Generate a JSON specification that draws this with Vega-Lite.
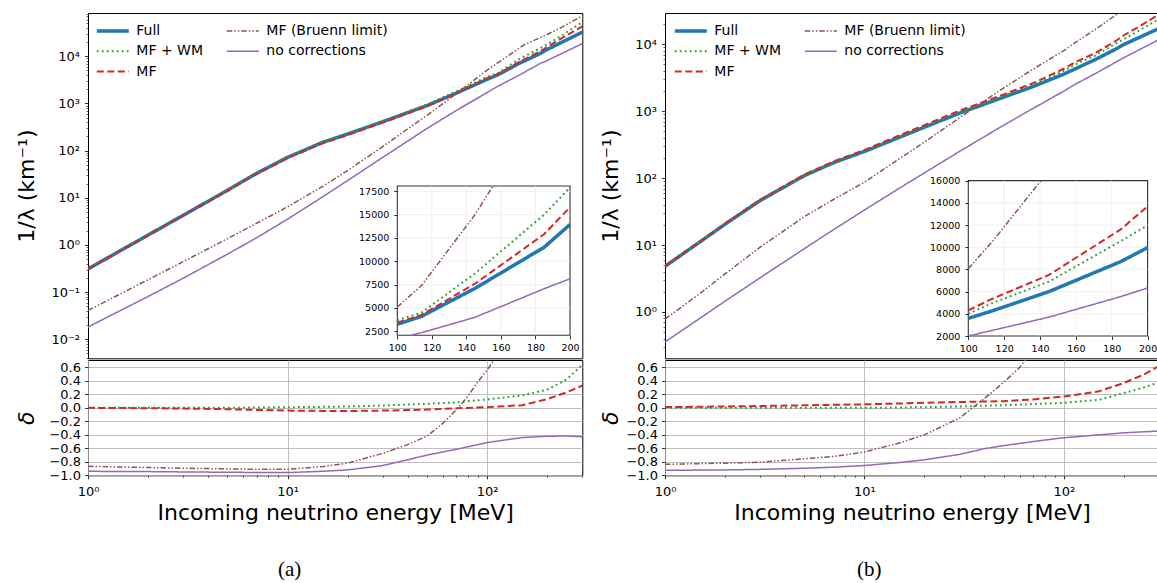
{
  "background": "white",
  "padding": {"left": 14, "top": 12, "right": 0, "bottom": 0},
  "config": {
    "view": {"stroke": "#000000", "strokeWidth": 1},
    "font": "DejaVu Sans",
    "axis": {"labelFont": "DejaVu Sans", "titleFont": "DejaVu Sans", "labelColor": "#000000", "titleColor": "#000000", "tickColor": "#000000", "tickWidth": 0.8, "tickSize": 3.5, "labelFontSize": 13, "titleFontSize": 22, "titleFontWeight": "normal", "grid": false, "domain": false, "labelFlush": false, "labelOverlap": false, "labelBound": false, "gridColor": "#b0b0b0", "gridWidth": 0.8}
  },
  "datasets": {
    "a": [
      {"E":1,"s":"Full","v":0.31},{"E":1.5,"s":"Full","v":0.815},{"E":2,"s":"Full","v":1.62},{"E":3,"s":"Full","v":4.25},{"E":5,"s":"Full","v":14.4},{"E":7,"s":"Full","v":33},{"E":10,"s":"Full","v":72},{"E":15,"s":"Full","v":150},{"E":20,"s":"Full","v":225},{"E":30,"s":"Full","v":410},{"E":50,"s":"Full","v":900},{"E":70,"s":"Full","v":1650},{"E":100,"s":"Full","v":3248},{"E":114,"s":"Full","v":4100},{"E":145,"s":"Full","v":7100},{"E":185,"s":"Full","v":11500},{"E":200,"s":"Full","v":13940},{"E":236,"s":"Full","v":19700},{"E":300,"s":"Full","v":32500},
      {"E":1,"s":"MF + WM","v":0.31},{"E":1.5,"s":"MF + WM","v":0.815},{"E":2,"s":"MF + WM","v":1.62},{"E":3,"s":"MF + WM","v":4.25},{"E":5,"s":"MF + WM","v":14.43},{"E":7,"s":"MF + WM","v":33.2},{"E":10,"s":"MF + WM","v":72.7},{"E":15,"s":"MF + WM","v":152},{"E":20,"s":"MF + WM","v":230},{"E":30,"s":"MF + WM","v":425},{"E":50,"s":"MF + WM","v":955},{"E":70,"s":"MF + WM","v":1790},{"E":100,"s":"MF + WM","v":3676},{"E":114,"s":"MF + WM","v":4500},{"E":145,"s":"MF + WM","v":8700},{"E":185,"s":"MF + WM","v":15000},{"E":200,"s":"MF + WM","v":17900},{"E":236,"s":"MF + WM","v":27400},{"E":300,"s":"MF + WM","v":53300},
      {"E":1,"s":"MF","v":0.31},{"E":1.5,"s":"MF","v":0.813},{"E":2,"s":"MF","v":1.61},{"E":3,"s":"MF","v":4.21},{"E":5,"s":"MF","v":14.1},{"E":7,"s":"MF","v":32},{"E":10,"s":"MF","v":69},{"E":15,"s":"MF","v":143},{"E":20,"s":"MF","v":214},{"E":30,"s":"MF","v":394},{"E":50,"s":"MF","v":878},{"E":70,"s":"MF","v":1640},{"E":100,"s":"MF","v":3426},{"E":114,"s":"MF","v":4250},{"E":145,"s":"MF","v":7600},{"E":185,"s":"MF","v":12900},{"E":200,"s":"MF","v":15790},{"E":236,"s":"MF","v":24000},{"E":300,"s":"MF","v":43200},
      {"E":1,"s":"MF (Bruenn limit)","v":0.041},{"E":1.5,"s":"MF (Bruenn limit)","v":0.098},{"E":2,"s":"MF (Bruenn limit)","v":0.183},{"E":3,"s":"MF (Bruenn limit)","v":0.443},{"E":5,"s":"MF (Bruenn limit)","v":1.36},{"E":7,"s":"MF (Bruenn limit)","v":2.88},{"E":10,"s":"MF (Bruenn limit)","v":6.43},{"E":15,"s":"MF (Bruenn limit)","v":17.4},{"E":20,"s":"MF (Bruenn limit)","v":37.8},{"E":30,"s":"MF (Bruenn limit)","v":122},{"E":50,"s":"MF (Bruenn limit)","v":560},{"E":70,"s":"MF (Bruenn limit)","v":1600},{"E":100,"s":"MF (Bruenn limit)","v":5100},{"E":114,"s":"MF (Bruenn limit)","v":7400},{"E":145,"s":"MF (Bruenn limit)","v":15000},{"E":155.4,"s":"MF (Bruenn limit)","v":18068},{"E":185,"s":"MF (Bruenn limit)","v":25000},{"E":200,"s":"MF (Bruenn limit)","v":29000},{"E":236,"s":"MF (Bruenn limit)","v":41000},{"E":300,"s":"MF (Bruenn limit)","v":72000},
      {"E":1,"s":"no corrections","v":0.0182},{"E":1.5,"s":"no corrections","v":0.0435},{"E":2,"s":"no corrections","v":0.0807},{"E":3,"s":"no corrections","v":0.197},{"E":5,"s":"no corrections","v":0.638},{"E":7,"s":"no corrections","v":1.42},{"E":10,"s":"no corrections","v":3.52},{"E":15,"s":"no corrections","v":10.5},{"E":20,"s":"no corrections","v":23.2},{"E":30,"s":"no corrections","v":72},{"E":50,"s":"no corrections","v":295},{"E":70,"s":"no corrections","v":708},{"E":100,"s":"no corrections","v":1700},{"E":108,"s":"no corrections","v":2071},{"E":114,"s":"no corrections","v":2350},{"E":145,"s":"no corrections","v":4000},{"E":185,"s":"no corrections","v":7060},{"E":200,"s":"no corrections","v":8129},{"E":236,"s":"no corrections","v":11400},{"E":300,"s":"no corrections","v":18600}
    ],
    "da": [
      {"E":1,"s":"MF + WM","d":0},{"E":2,"s":"MF + WM","d":0},{"E":3,"s":"MF + WM","d":0},{"E":5,"s":"MF + WM","d":0.002},{"E":7,"s":"MF + WM","d":0.005},{"E":10,"s":"MF + WM","d":0.01},{"E":15,"s":"MF + WM","d":0.015},{"E":20,"s":"MF + WM","d":0.02},{"E":30,"s":"MF + WM","d":0.035},{"E":40,"s":"MF + WM","d":0.05},{"E":50,"s":"MF + WM","d":0.06},{"E":70,"s":"MF + WM","d":0.082},{"E":100,"s":"MF + WM","d":0.125},{"E":150,"s":"MF + WM","d":0.185},{"E":200,"s":"MF + WM","d":0.27},{"E":250,"s":"MF + WM","d":0.42},{"E":300,"s":"MF + WM","d":0.64},
      {"E":1,"s":"MF","d":0},{"E":2,"s":"MF","d":-0.005},{"E":3,"s":"MF","d":-0.01},{"E":5,"s":"MF","d":-0.02},{"E":7,"s":"MF","d":-0.03},{"E":10,"s":"MF","d":-0.04},{"E":15,"s":"MF","d":-0.045},{"E":20,"s":"MF","d":-0.047},{"E":30,"s":"MF","d":-0.04},{"E":40,"s":"MF","d":-0.033},{"E":50,"s":"MF","d":-0.025},{"E":70,"s":"MF","d":-0.005},{"E":100,"s":"MF","d":0.01},{"E":150,"s":"MF","d":0.04},{"E":200,"s":"MF","d":0.13},{"E":250,"s":"MF","d":0.23},{"E":300,"s":"MF","d":0.33},
      {"E":1,"s":"MF (Bruenn limit)","d":-0.867},{"E":2,"s":"MF (Bruenn limit)","d":-0.885},{"E":3,"s":"MF (Bruenn limit)","d":-0.895},{"E":5,"s":"MF (Bruenn limit)","d":-0.905},{"E":7,"s":"MF (Bruenn limit)","d":-0.91},{"E":10,"s":"MF (Bruenn limit)","d":-0.912},{"E":15,"s":"MF (Bruenn limit)","d":-0.87},{"E":20,"s":"MF (Bruenn limit)","d":-0.82},{"E":30,"s":"MF (Bruenn limit)","d":-0.675},{"E":40,"s":"MF (Bruenn limit)","d":-0.545},{"E":50,"s":"MF (Bruenn limit)","d":-0.42},{"E":60,"s":"MF (Bruenn limit)","d":-0.23},{"E":70,"s":"MF (Bruenn limit)","d":-0.03},{"E":80,"s":"MF (Bruenn limit)","d":0.17},{"E":90,"s":"MF (Bruenn limit)","d":0.39},{"E":100,"s":"MF (Bruenn limit)","d":0.56},{"E":110,"s":"MF (Bruenn limit)","d":0.74},
      {"E":1,"s":"no corrections","d":-0.941},{"E":2,"s":"no corrections","d":-0.945},{"E":3,"s":"no corrections","d":-0.95},{"E":5,"s":"no corrections","d":-0.955},{"E":7,"s":"no corrections","d":-0.958},{"E":10,"s":"no corrections","d":-0.96},{"E":15,"s":"no corrections","d":-0.94},{"E":20,"s":"no corrections","d":-0.92},{"E":30,"s":"no corrections","d":-0.855},{"E":40,"s":"no corrections","d":-0.77},{"E":50,"s":"no corrections","d":-0.7},{"E":70,"s":"no corrections","d":-0.615},{"E":100,"s":"no corrections","d":-0.515},{"E":150,"s":"no corrections","d":-0.44},{"E":200,"s":"no corrections","d":-0.42},{"E":250,"s":"no corrections","d":-0.418},{"E":300,"s":"no corrections","d":-0.428}
    ],
    "b": [
      {"E":1,"s":"Full","v":4.8},{"E":1.5,"s":"Full","v":11.2},{"E":2,"s":"Full","v":20.5},{"E":3,"s":"Full","v":46.3},{"E":5,"s":"Full","v":109},{"E":7,"s":"Full","v":170},{"E":10,"s":"Full","v":251},{"E":15,"s":"Full","v":409},{"E":20,"s":"Full","v":577},{"E":30,"s":"Full","v":938},{"E":50,"s":"Full","v":1625},{"E":70,"s":"Full","v":2330},{"E":100,"s":"Full","v":3590},{"E":114,"s":"Full","v":4300},{"E":145,"s":"Full","v":6000},{"E":185,"s":"Full","v":8700},{"E":200,"s":"Full","v":9960},{"E":236,"s":"Full","v":12470},{"E":300,"s":"Full","v":17300},
      {"E":1,"s":"MF + WM","v":4.8},{"E":1.5,"s":"MF + WM","v":11.2},{"E":2,"s":"MF + WM","v":20.5},{"E":3,"s":"MF + WM","v":46.3},{"E":5,"s":"MF + WM","v":109},{"E":7,"s":"MF + WM","v":170},{"E":10,"s":"MF + WM","v":251},{"E":15,"s":"MF + WM","v":411},{"E":20,"s":"MF + WM","v":583},{"E":30,"s":"MF + WM","v":957},{"E":50,"s":"MF + WM","v":1690},{"E":70,"s":"MF + WM","v":2460},{"E":100,"s":"MF + WM","v":4018},{"E":114,"s":"MF + WM","v":5000},{"E":145,"s":"MF + WM","v":6900},{"E":185,"s":"MF + WM","v":10550},{"E":200,"s":"MF + WM","v":11970},{"E":236,"s":"MF + WM","v":15800},{"E":300,"s":"MF + WM","v":23900},
      {"E":1,"s":"MF","v":4.86},{"E":1.5,"s":"MF","v":11.4},{"E":2,"s":"MF","v":20.9},{"E":3,"s":"MF","v":47.6},{"E":5,"s":"MF","v":113},{"E":7,"s":"MF","v":178},{"E":10,"s":"MF","v":264},{"E":15,"s":"MF","v":436},{"E":20,"s":"MF","v":620},{"E":30,"s":"MF","v":1020},{"E":50,"s":"MF","v":1790},{"E":70,"s":"MF","v":2620},{"E":100,"s":"MF","v":4315},{"E":114,"s":"MF","v":5400},{"E":145,"s":"MF","v":7500},{"E":185,"s":"MF","v":11600},{"E":200,"s":"MF","v":13682},{"E":236,"s":"MF","v":18100},{"E":300,"s":"MF","v":28000},
      {"E":1,"s":"MF (Bruenn limit)","v":0.78},{"E":1.5,"s":"MF (Bruenn limit)","v":1.9},{"E":2,"s":"MF (Bruenn limit)","v":3.7},{"E":3,"s":"MF (Bruenn limit)","v":9.3},{"E":5,"s":"MF (Bruenn limit)","v":26.7},{"E":7,"s":"MF (Bruenn limit)","v":48},{"E":10,"s":"MF (Bruenn limit)","v":87},{"E":15,"s":"MF (Bruenn limit)","v":196},{"E":20,"s":"MF (Bruenn limit)","v":346},{"E":30,"s":"MF (Bruenn limit)","v":800},{"E":50,"s":"MF (Bruenn limit)","v":2240},{"E":70,"s":"MF (Bruenn limit)","v":4250},{"E":100,"s":"MF (Bruenn limit)","v":8066},{"E":114,"s":"MF (Bruenn limit)","v":10620},{"E":140.5,"s":"MF (Bruenn limit)","v":16000},{"E":145,"s":"MF (Bruenn limit)","v":17000},{"E":185,"s":"MF (Bruenn limit)","v":28300},{"E":200,"s":"MF (Bruenn limit)","v":33000},{"E":236,"s":"MF (Bruenn limit)","v":46000},{"E":300,"s":"MF (Bruenn limit)","v":75000},
      {"E":1,"s":"no corrections","v":0.355},{"E":1.5,"s":"no corrections","v":0.81},{"E":2,"s":"no corrections","v":1.45},{"E":3,"s":"no corrections","v":3.25},{"E":5,"s":"no corrections","v":8.85},{"E":7,"s":"no corrections","v":17.0},{"E":10,"s":"no corrections","v":33.4},{"E":15,"s":"no corrections","v":71},{"E":20,"s":"no corrections","v":120},{"E":30,"s":"no corrections","v":251},{"E":50,"s":"no corrections","v":620},{"E":70,"s":"no corrections","v":1100},{"E":100,"s":"no corrections","v":2000},{"E":114,"s":"no corrections","v":2530},{"E":145,"s":"no corrections","v":3700},{"E":185,"s":"no corrections","v":5550},{"E":200,"s":"no corrections","v":6324},{"E":236,"s":"no corrections","v":8150},{"E":300,"s":"no corrections","v":11800}
    ],
    "db": [
      {"E":1,"s":"MF + WM","d":0},{"E":2,"s":"MF + WM","d":0},{"E":3,"s":"MF + WM","d":0},{"E":5,"s":"MF + WM","d":0},{"E":7,"s":"MF + WM","d":0},{"E":10,"s":"MF + WM","d":0},{"E":15,"s":"MF + WM","d":0.005},{"E":20,"s":"MF + WM","d":0.01},{"E":30,"s":"MF + WM","d":0.02},{"E":40,"s":"MF + WM","d":0.032},{"E":50,"s":"MF + WM","d":0.04},{"E":70,"s":"MF + WM","d":0.055},{"E":100,"s":"MF + WM","d":0.076},{"E":150,"s":"MF + WM","d":0.12},{"E":200,"s":"MF + WM","d":0.22},{"E":250,"s":"MF + WM","d":0.3},{"E":300,"s":"MF + WM","d":0.38},
      {"E":1,"s":"MF","d":0.012},{"E":2,"s":"MF","d":0.02},{"E":3,"s":"MF","d":0.028},{"E":5,"s":"MF","d":0.038},{"E":7,"s":"MF","d":0.045},{"E":10,"s":"MF","d":0.052},{"E":15,"s":"MF","d":0.065},{"E":20,"s":"MF","d":0.075},{"E":30,"s":"MF","d":0.087},{"E":40,"s":"MF","d":0.094},{"E":50,"s":"MF","d":0.1},{"E":70,"s":"MF","d":0.125},{"E":100,"s":"MF","d":0.17},{"E":150,"s":"MF","d":0.245},{"E":200,"s":"MF","d":0.37},{"E":250,"s":"MF","d":0.49},{"E":300,"s":"MF","d":0.62},
      {"E":1,"s":"MF (Bruenn limit)","d":-0.837},{"E":2,"s":"MF (Bruenn limit)","d":-0.82},{"E":3,"s":"MF (Bruenn limit)","d":-0.805},{"E":5,"s":"MF (Bruenn limit)","d":-0.755},{"E":7,"s":"MF (Bruenn limit)","d":-0.72},{"E":10,"s":"MF (Bruenn limit)","d":-0.655},{"E":15,"s":"MF (Bruenn limit)","d":-0.52},{"E":20,"s":"MF (Bruenn limit)","d":-0.4},{"E":30,"s":"MF (Bruenn limit)","d":-0.15},{"E":40,"s":"MF (Bruenn limit)","d":0.14},{"E":50,"s":"MF (Bruenn limit)","d":0.38},{"E":60,"s":"MF (Bruenn limit)","d":0.6},{"E":70,"s":"MF (Bruenn limit)","d":0.85},
      {"E":1,"s":"no corrections","d":-0.926},{"E":2,"s":"no corrections","d":-0.92},{"E":3,"s":"no corrections","d":-0.912},{"E":5,"s":"no corrections","d":-0.895},{"E":7,"s":"no corrections","d":-0.88},{"E":10,"s":"no corrections","d":-0.855},{"E":15,"s":"no corrections","d":-0.81},{"E":20,"s":"no corrections","d":-0.77},{"E":30,"s":"no corrections","d":-0.69},{"E":40,"s":"no corrections","d":-0.605},{"E":50,"s":"no corrections","d":-0.56},{"E":70,"s":"no corrections","d":-0.5},{"E":100,"s":"no corrections","d":-0.443},{"E":150,"s":"no corrections","d":-0.4},{"E":200,"s":"no corrections","d":-0.37},{"E":250,"s":"no corrections","d":-0.355},{"E":300,"s":"no corrections","d":-0.344}
    ]
  },
  "resolve": {"scale": {"color": "independent", "strokeDash": "independent"}},
  "spacing": 15,
  "hconcat": [
    {
      "title": {"text": "(a)", "orient": "bottom", "anchor": "middle", "font": "Liberation Serif", "fontSize": 21, "fontWeight": "normal", "color": "#000000", "offset": 35, "dx": -9},
      "spacing": 0,
      "resolve": {"scale": {"color": "independent", "strokeDash": "independent"}},
      "vconcat": [
        {
          "width": 494.3, "height": 345.3,
          "resolve": {"scale": {"x": "independent", "y": "independent"}, "axis": {"x": "independent", "y": "independent"}},
          "layer": [
            {
              "resolve": {"axis": {"x": "independent", "y": "independent"}},
              "layer": [
                {
                  "data": {"name": "a"},
                  "mark": {"type": "line", "clip": true},
                  "encoding": {
                    "x": {"field": "E", "type": "quantitative", "scale": {"type": "log", "domain": [1, 300]}, "axis": null},
                    "y": {"field": "v", "type": "quantitative", "scale": {"type": "log", "domain": [0.00395, 82800]},
                      "axis": {"orient": "left", "values": [0.01, 0.1, 1, 10, 100, 1000, 10000], "labelExpr": "'10' + ['⁻³','⁻²','⁻¹','⁰','¹','²','³','⁴','⁵'][round(log(datum.value)/LN10)+3]", "labelPadding": 5, "title": "1/λ (km⁻¹)", "titleX": -62, "titleY": 172.6, "titleBaseline": "middle", "titleAlign": "center"}},
                    "color": {"field": "s", "type": "nominal", "scale": {"domain": ["Full", "MF + WM", "MF", "MF (Bruenn limit)", "no corrections"], "range": ["#1f77b4", "#2ca02c", "#d62728", "#8c564b", "#9467bd"]},
                      "legend": {"orient": "none", "legendX": 17.8, "legendY": 11, "columns": 2, "title": null, "symbolType": "stroke", "symbolSize": 1024, "rowPadding": 6.3, "columnPadding": 20, "labelOffset": 16.5, "padding": 0, "labelFontSize": 14, "labelFont": "DejaVu Sans", "labelColor": "#000000", "gridAlign": "each", "labelLimit": 400, "encode": {"symbols": {"update": {"strokeWidth": {"signal": "datum.value === 'Full' ? 3.5 : (datum.value === 'MF' || datum.value === 'MF + WM') ? 2 : 1.5"}}}}}},
                    "strokeDash": {"field": "s", "type": "nominal", "scale": {"domain": ["Full", "MF + WM", "MF", "MF (Bruenn limit)", "no corrections"], "range": [[1, 0], [1.8, 3.2], [7, 3.5], [5.5, 2, 1.5, 2, 1.5, 2], [1, 0]]},
                      "legend": {"orient": "none", "legendX": 17.8, "legendY": 11, "columns": 2, "title": null, "symbolType": "stroke", "symbolSize": 1024, "rowPadding": 6.3, "columnPadding": 20, "labelOffset": 16.5, "padding": 0, "labelFontSize": 14, "labelFont": "DejaVu Sans", "labelColor": "#000000", "gridAlign": "each", "labelLimit": 400, "encode": {"symbols": {"update": {"strokeWidth": {"signal": "datum.value === 'Full' ? 3.5 : (datum.value === 'MF' || datum.value === 'MF + WM') ? 2 : 1.5"}}}}}},
                    "strokeWidth": {"condition": [{"test": "datum.s === 'Full'", "value": 3.5}, {"test": "datum.s === 'MF' || datum.s === 'MF + WM'", "value": 2}], "value": 1.5}
                  }
                },
                {
                  "data": {"name": "a"},
                  "mark": {"type": "line", "opacity": 0, "clip": true},
                  "encoding": {
                    "x": {"field": "E", "type": "quantitative", "scale": {"type": "log", "domain": [1, 300]}, "axis": null},
                    "y": {"field": "v", "type": "quantitative", "scale": {"type": "log", "domain": [0.00395, 82800]},
                      "axis": {"orient": "left", "values": [0.004,0.005,0.006,0.007,0.008,0.009,0.02,0.03,0.04,0.05,0.06,0.07,0.08,0.09,0.2,0.3,0.4,0.5,0.6,0.7,0.8,0.9,2,3,4,5,6,7,8,9,20,30,40,50,60,70,80,90,200,300,400,500,600,700,800,900,2000,3000,4000,5000,6000,7000,8000,9000,20000,30000,40000,50000,60000,70000,80000], "labels": false, "tickSize": 2, "tickWidth": 0.6, "title": null}}
                  }
                }
              ]
            },
            {
              "resolve": {"axis": {"x": "independent", "y": "independent"}},
              "layer": [
                {
                  "data": {"values": [{"k": 0}]},
                  "mark": {"type": "rect", "fill": "white", "stroke": "#333333", "strokeWidth": 1.1},
                  "encoding": {
                    "x": {"datum": 100, "type": "quantitative", "scale": {"type": "linear", "domain": [100, 200], "range": [309.3, 482.0], "zero": false, "nice": false}, "axis": null},
                    "x2": {"datum": 200},
                    "y": {"datum": 2071, "type": "quantitative", "scale": {"type": "linear", "domain": [2071, 18068], "range": [322.3, 173.0], "zero": false, "nice": false}, "axis": null},
                    "y2": {"datum": 18068}
                  }
                },
                {
                  "data": {"values": [{"g": 120}, {"g": 140}, {"g": 160}, {"g": 180}]},
                  "mark": {"type": "rule", "color": "#ececec", "strokeWidth": 0.8},
                  "encoding": {
                    "x": {"field": "g", "type": "quantitative", "scale": {"type": "linear", "domain": [100, 200], "range": [309.3, 482.0], "zero": false, "nice": false}, "axis": null},
                    "y": {"datum": 2071, "type": "quantitative", "scale": {"type": "linear", "domain": [2071, 18068], "range": [322.3, 173.0], "zero": false, "nice": false}, "axis": null},
                    "y2": {"datum": 18068}
                  }
                },
                {
                  "data": {"values": [{"g": 2500}, {"g": 5000}, {"g": 7500}, {"g": 10000}, {"g": 12500}, {"g": 15000}, {"g": 17500}]},
                  "mark": {"type": "rule", "color": "#ececec", "strokeWidth": 0.8},
                  "encoding": {
                    "y": {"field": "g", "type": "quantitative", "scale": {"type": "linear", "domain": [2071, 18068], "range": [322.3, 173.0], "zero": false, "nice": false}, "axis": null},
                    "x": {"datum": 100, "type": "quantitative", "scale": {"type": "linear", "domain": [100, 200], "range": [309.3, 482.0], "zero": false, "nice": false}, "axis": null},
                    "x2": {"datum": 200}
                  }
                },
                {
                  "data": {"name": "a"},
                  "transform": [{"filter": {"and": [{"field": "E", "range": [100, 200]}, {"field": "v", "range": [2071, 18068]}]}}],
                  "mark": {"type": "line"},
                  "encoding": {
                    "x": {"field": "E", "type": "quantitative", "scale": {"type": "linear", "domain": [100, 200], "range": [309.3, 482.0], "zero": false, "nice": false},
                      "axis": {"orient": "bottom", "offset": -23, "values": [100, 120, 140, 160, 180, 200], "labelFontSize": 9.5, "labelPadding": 4, "tickSize": 3.5, "title": null, "zindex": 1}},
                    "y": {"field": "v", "type": "quantitative", "scale": {"type": "linear", "domain": [2071, 18068], "range": [322.3, 173.0], "zero": false, "nice": false},
                      "axis": {"orient": "left", "offset": -309.3, "values": [2500, 5000, 7500, 10000, 12500, 15000, 17500], "format": "d", "labelFontSize": 9.5, "labelPadding": 5, "tickSize": 3.5, "title": null, "zindex": 1}},
                    "color": {"field": "s", "type": "nominal", "scale": {"domain": ["Full", "MF + WM", "MF", "MF (Bruenn limit)", "no corrections"], "range": ["#1f77b4", "#2ca02c", "#d62728", "#8c564b", "#9467bd"]}, "legend": null},
                    "strokeDash": {"field": "s", "type": "nominal", "scale": {"domain": ["Full", "MF + WM", "MF", "MF (Bruenn limit)", "no corrections"], "range": [[1, 0], [1.8, 3.2], [7, 3.5], [5.5, 2, 1.5, 2, 1.5, 2], [1, 0]]}, "legend": null},
                    "strokeWidth": {"condition": [{"test": "datum.s === 'Full'", "value": 3.5}, {"test": "datum.s === 'MF' || datum.s === 'MF + WM'", "value": 2}], "value": 1.5}
                  }
                }
              ]
            }
          ]
        },
        {
          "width": 494.3, "height": 115.3,
          "resolve": {"axis": {"x": "independent", "y": "independent"}},
          "layer": [
            {
              "data": {"name": "da"},
              "mark": {"type": "line", "clip": true},
              "encoding": {
                "x": {"field": "E", "type": "quantitative", "scale": {"type": "log", "domain": [1, 300]},
                  "axis": {"orient": "bottom", "values": [1, 10, 100], "labelExpr": "'10' + ['⁻³','⁻²','⁻¹','⁰','¹','²','³','⁴','⁵'][round(log(datum.value)/LN10)+3]", "grid": true, "labelPadding": 7, "title": "Incoming neutrino energy [MeV]", "titlePadding": 4}},
                "y": {"field": "d", "type": "quantitative", "scale": {"domain": [-1, 0.71], "zero": false, "nice": false},
                  "axis": {"orient": "left", "values": [-1, -0.8, -0.6, -0.4, -0.2, 0, 0.2, 0.4, 0.6], "format": ".1f", "grid": true, "labelPadding": 4, "title": "δ", "titleFontStyle": "italic", "titleX": -62, "titleY": 57.65, "titleBaseline": "middle", "titleAlign": "center"}},
                "color": {"field": "s", "type": "nominal", "scale": {"domain": ["Full", "MF + WM", "MF", "MF (Bruenn limit)", "no corrections"], "range": ["#1f77b4", "#2ca02c", "#d62728", "#8c564b", "#9467bd"]}, "legend": null},
                "strokeDash": {"field": "s", "type": "nominal", "scale": {"domain": ["Full", "MF + WM", "MF", "MF (Bruenn limit)", "no corrections"], "range": [[1, 0], [1.8, 3.2], [7, 3.5], [5.5, 2, 1.5, 2, 1.5, 2], [1, 0]]}, "legend": null},
                "strokeWidth": {"condition": [{"test": "datum.s === 'MF' || datum.s === 'MF + WM'", "value": 2}], "value": 1.5}
              }
            },
            {
              "data": {"name": "da"},
              "mark": {"type": "line", "opacity": 0, "clip": true},
              "encoding": {
                "x": {"field": "E", "type": "quantitative", "scale": {"type": "log", "domain": [1, 300]},
                  "axis": {"orient": "bottom", "values": [2,3,4,5,6,7,8,9,20,30,40,50,60,70,80,90,200,300], "labels": false, "tickSize": 2, "tickWidth": 0.6, "title": null}},
                "y": {"field": "d", "type": "quantitative", "scale": {"domain": [-1, 0.71], "zero": false, "nice": false}, "axis": null}
              }
            }
          ]
        }
      ]
    },
    {
      "title": {"text": "(b)", "orient": "bottom", "anchor": "middle", "font": "Liberation Serif", "fontSize": 21, "fontWeight": "normal", "color": "#000000", "offset": 35, "dx": -10},
      "spacing": 0,
      "resolve": {"scale": {"color": "independent", "strokeDash": "independent"}},
      "vconcat": [
        {
          "width": 494, "height": 345.3,
          "resolve": {"scale": {"x": "independent", "y": "independent"}, "axis": {"x": "independent", "y": "independent"}},
          "layer": [
            {
              "resolve": {"axis": {"x": "independent", "y": "independent"}},
              "layer": [
                {
                  "data": {"name": "b"},
                  "mark": {"type": "line", "clip": true},
                  "encoding": {
                    "x": {"field": "E", "type": "quantitative", "scale": {"type": "log", "domain": [1, 300]}, "axis": null},
                    "y": {"field": "v", "type": "quantitative", "scale": {"type": "log", "domain": [0.203, 29400]},
                      "axis": {"orient": "left", "values": [1, 10, 100, 1000, 10000], "labelExpr": "'10' + ['⁻³','⁻²','⁻¹','⁰','¹','²','³','⁴','⁵'][round(log(datum.value)/LN10)+3]", "labelPadding": 5, "title": "1/λ (km⁻¹)", "titleX": -55, "titleY": 172.6, "titleBaseline": "middle", "titleAlign": "center"}},
                    "color": {"field": "s", "type": "nominal", "scale": {"domain": ["Full", "MF + WM", "MF", "MF (Bruenn limit)", "no corrections"], "range": ["#1f77b4", "#2ca02c", "#d62728", "#8c564b", "#9467bd"]},
                      "legend": {"orient": "none", "legendX": 18.8, "legendY": 11, "columns": 2, "title": null, "symbolType": "stroke", "symbolSize": 1024, "rowPadding": 6.3, "columnPadding": 20, "labelOffset": 16.5, "padding": 0, "labelFontSize": 14, "labelFont": "DejaVu Sans", "labelColor": "#000000", "gridAlign": "each", "labelLimit": 400, "encode": {"symbols": {"update": {"strokeWidth": {"signal": "datum.value === 'Full' ? 3.5 : (datum.value === 'MF' || datum.value === 'MF + WM') ? 2 : 1.5"}}}}}},
                    "strokeDash": {"field": "s", "type": "nominal", "scale": {"domain": ["Full", "MF + WM", "MF", "MF (Bruenn limit)", "no corrections"], "range": [[1, 0], [1.8, 3.2], [7, 3.5], [5.5, 2, 1.5, 2, 1.5, 2], [1, 0]]},
                      "legend": {"orient": "none", "legendX": 18.8, "legendY": 11, "columns": 2, "title": null, "symbolType": "stroke", "symbolSize": 1024, "rowPadding": 6.3, "columnPadding": 20, "labelOffset": 16.5, "padding": 0, "labelFontSize": 14, "labelFont": "DejaVu Sans", "labelColor": "#000000", "gridAlign": "each", "labelLimit": 400, "encode": {"symbols": {"update": {"strokeWidth": {"signal": "datum.value === 'Full' ? 3.5 : (datum.value === 'MF' || datum.value === 'MF + WM') ? 2 : 1.5"}}}}}},
                    "strokeWidth": {"condition": [{"test": "datum.s === 'Full'", "value": 3.5}, {"test": "datum.s === 'MF' || datum.s === 'MF + WM'", "value": 2}], "value": 1.5}
                  }
                },
                {
                  "data": {"name": "b"},
                  "mark": {"type": "line", "opacity": 0, "clip": true},
                  "encoding": {
                    "x": {"field": "E", "type": "quantitative", "scale": {"type": "log", "domain": [1, 300]}, "axis": null},
                    "y": {"field": "v", "type": "quantitative", "scale": {"type": "log", "domain": [0.203, 29400]},
                      "axis": {"orient": "left", "values": [0.3,0.4,0.5,0.6,0.7,0.8,0.9,2,3,4,5,6,7,8,9,20,30,40,50,60,70,80,90,200,300,400,500,600,700,800,900,2000,3000,4000,5000,6000,7000,8000,9000,20000], "labels": false, "tickSize": 2, "tickWidth": 0.6, "title": null}}
                  }
                }
              ]
            },
            {
              "resolve": {"axis": {"x": "independent", "y": "independent"}},
              "layer": [
                {
                  "data": {"values": [{"k": 0}]},
                  "mark": {"type": "rect", "fill": "white", "stroke": "#333333", "strokeWidth": 1.1},
                  "encoding": {
                    "x": {"datum": 100, "type": "quantitative", "scale": {"type": "linear", "domain": [100, 200], "range": [303.3, 482.6], "zero": false, "nice": false}, "axis": null},
                    "x2": {"datum": 200},
                    "y": {"datum": 2000, "type": "quantitative", "scale": {"type": "linear", "domain": [2000, 16000], "range": [323.0, 167.6], "zero": false, "nice": false}, "axis": null},
                    "y2": {"datum": 16000}
                  }
                },
                {
                  "data": {"values": [{"g": 120}, {"g": 140}, {"g": 160}, {"g": 180}]},
                  "mark": {"type": "rule", "color": "#ececec", "strokeWidth": 0.8},
                  "encoding": {
                    "x": {"field": "g", "type": "quantitative", "scale": {"type": "linear", "domain": [100, 200], "range": [303.3, 482.6], "zero": false, "nice": false}, "axis": null},
                    "y": {"datum": 2000, "type": "quantitative", "scale": {"type": "linear", "domain": [2000, 16000], "range": [323.0, 167.6], "zero": false, "nice": false}, "axis": null},
                    "y2": {"datum": 16000}
                  }
                },
                {
                  "data": {"values": [{"g": 4000}, {"g": 6000}, {"g": 8000}, {"g": 10000}, {"g": 12000}, {"g": 14000}]},
                  "mark": {"type": "rule", "color": "#ececec", "strokeWidth": 0.8},
                  "encoding": {
                    "y": {"field": "g", "type": "quantitative", "scale": {"type": "linear", "domain": [2000, 16000], "range": [323.0, 167.6], "zero": false, "nice": false}, "axis": null},
                    "x": {"datum": 100, "type": "quantitative", "scale": {"type": "linear", "domain": [100, 200], "range": [303.3, 482.6], "zero": false, "nice": false}, "axis": null},
                    "x2": {"datum": 200}
                  }
                },
                {
                  "data": {"name": "b"},
                  "transform": [{"filter": {"and": [{"field": "E", "range": [100, 200]}, {"field": "v", "range": [2000, 16000]}]}}],
                  "mark": {"type": "line"},
                  "encoding": {
                    "x": {"field": "E", "type": "quantitative", "scale": {"type": "linear", "domain": [100, 200], "range": [303.3, 482.6], "zero": false, "nice": false},
                      "axis": {"orient": "bottom", "offset": -22.3, "values": [100, 120, 140, 160, 180, 200], "labelFontSize": 9.5, "labelPadding": 4, "tickSize": 3.5, "title": null, "zindex": 1}},
                    "y": {"field": "v", "type": "quantitative", "scale": {"type": "linear", "domain": [2000, 16000], "range": [323.0, 167.6], "zero": false, "nice": false},
                      "axis": {"orient": "left", "offset": -303.3, "values": [2000, 4000, 6000, 8000, 10000, 12000, 14000, 16000], "format": "d", "labelFontSize": 9.5, "labelPadding": 5, "tickSize": 3.5, "title": null, "zindex": 1}},
                    "color": {"field": "s", "type": "nominal", "scale": {"domain": ["Full", "MF + WM", "MF", "MF (Bruenn limit)", "no corrections"], "range": ["#1f77b4", "#2ca02c", "#d62728", "#8c564b", "#9467bd"]}, "legend": null},
                    "strokeDash": {"field": "s", "type": "nominal", "scale": {"domain": ["Full", "MF + WM", "MF", "MF (Bruenn limit)", "no corrections"], "range": [[1, 0], [1.8, 3.2], [7, 3.5], [5.5, 2, 1.5, 2, 1.5, 2], [1, 0]]}, "legend": null},
                    "strokeWidth": {"condition": [{"test": "datum.s === 'Full'", "value": 3.5}, {"test": "datum.s === 'MF' || datum.s === 'MF + WM'", "value": 2}], "value": 1.5}
                  }
                }
              ]
            }
          ]
        },
        {
          "width": 494, "height": 115.3,
          "resolve": {"axis": {"x": "independent", "y": "independent"}},
          "layer": [
            {
              "data": {"name": "db"},
              "mark": {"type": "line", "clip": true},
              "encoding": {
                "x": {"field": "E", "type": "quantitative", "scale": {"type": "log", "domain": [1, 300]},
                  "axis": {"orient": "bottom", "values": [1, 10, 100], "labelExpr": "'10' + ['⁻³','⁻²','⁻¹','⁰','¹','²','³','⁴','⁵'][round(log(datum.value)/LN10)+3]", "grid": true, "labelPadding": 7, "title": "Incoming neutrino energy [MeV]", "titlePadding": 4}},
                "y": {"field": "d", "type": "quantitative", "scale": {"domain": [-1, 0.71], "zero": false, "nice": false},
                  "axis": {"orient": "left", "values": [-1, -0.8, -0.6, -0.4, -0.2, 0, 0.2, 0.4, 0.6], "format": ".1f", "grid": true, "labelPadding": 4, "title": "δ", "titleFontStyle": "italic", "titleX": -55, "titleY": 57.65, "titleBaseline": "middle", "titleAlign": "center"}},
                "color": {"field": "s", "type": "nominal", "scale": {"domain": ["Full", "MF + WM", "MF", "MF (Bruenn limit)", "no corrections"], "range": ["#1f77b4", "#2ca02c", "#d62728", "#8c564b", "#9467bd"]}, "legend": null},
                "strokeDash": {"field": "s", "type": "nominal", "scale": {"domain": ["Full", "MF + WM", "MF", "MF (Bruenn limit)", "no corrections"], "range": [[1, 0], [1.8, 3.2], [7, 3.5], [5.5, 2, 1.5, 2, 1.5, 2], [1, 0]]}, "legend": null},
                "strokeWidth": {"condition": [{"test": "datum.s === 'MF' || datum.s === 'MF + WM'", "value": 2}], "value": 1.5}
              }
            },
            {
              "data": {"name": "db"},
              "mark": {"type": "line", "opacity": 0, "clip": true},
              "encoding": {
                "x": {"field": "E", "type": "quantitative", "scale": {"type": "log", "domain": [1, 300]},
                  "axis": {"orient": "bottom", "values": [2,3,4,5,6,7,8,9,20,30,40,50,60,70,80,90,200,300], "labels": false, "tickSize": 2, "tickWidth": 0.6, "title": null}},
                "y": {"field": "d", "type": "quantitative", "scale": {"domain": [-1, 0.71], "zero": false, "nice": false}, "axis": null}
              }
            }
          ]
        }
      ]
    }
  ]
}
